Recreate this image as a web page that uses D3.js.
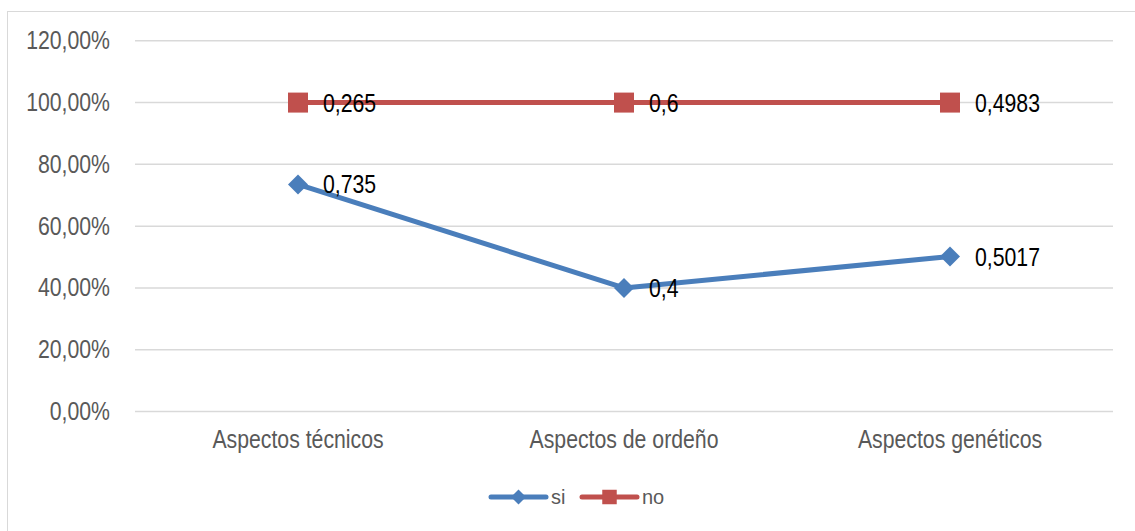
<!DOCTYPE html>
<html>
<head>
<meta charset="utf-8">
<script src="https://cdn.jsdelivr.net/npm/d3@7"></script>
<style>
  body { margin: 0; background: #fff; }
  svg text { font-family: "Liberation Sans Narrow", "Arial Narrow", "Liberation Sans", sans-serif; }
</style>
</head>
<body>
<div id="chart"></div>
<script>
var categories = ["Aspectos técnicos", "Aspectos de ordeño", "Aspectos genéticos"];
var siValues = [0.735, 0.4, 0.5017];
var noValues = [0.265, 0.6, 0.4983];
var labelSi = ["0,735", "0,4", "0,5017"];
var labelNo = ["0,265", "0,6", "0,4983"];
var yTicks = [0, 0.2, 0.4, 0.6, 0.8, 1.0, 1.2];

// squeeze regular sans to look like a narrow face
var narrow = 0.85;

function squeeze(sel){
  sel.each(function(){
    var t = d3.select(this);
    var x = +t.attr("x") || 0;
    t.attr("x", x / narrow)
     .attr("transform", "scale(" + narrow + ",1)");
  });
}

// Excel style diamond: a square turned 45 degrees
function diamondPath(w){
  var h = w / 2;
  return "M0," + (-h) + "L" + h + ",0L0," + h + "L" + (-h) + ",0Z";
}

function main(){
  var canvasWidth = 1135;
  var canvasHeight = 531;

  var svg = d3.select("#chart").append("svg")
      .attr("width", canvasWidth)
      .attr("height", canvasHeight);

  // chart frame
  svg.append("rect")
      .attr("x", 7.5).attr("y", 11.5)
      .attr("width", 1140).attr("height", 530)
      .attr("fill", "none")
      .attr("stroke", "#d9d9d9");

  var xScale = d3.scaleBand().domain(categories).range([135, 1113]);
  var yScale = d3.scaleLinear().domain([0, 1.2]).range([411.5, 40.8]);

  // gridlines
  svg.append("g")
      .selectAll("line")
      .data(yTicks)
      .enter().append("line")
      .attr("x1", 135).attr("x2", 1113)
      .attr("y1", function(d){ return yScale(d); })
      .attr("y2", function(d){ return yScale(d); })
      .attr("stroke", "#d9d9d9")
      .attr("stroke-width", 1.5);

  // y axis
  var yAxis = svg.append("g")
      .attr("transform", "translate(122,0)")
      .call(d3.axisLeft(yScale).tickValues(yTicks)
        .tickFormat(function(d){ return d3.format(".2f")(d * 100).replace(".", ",") + "%"; })
        .tickSize(0).tickPadding(12));
  yAxis.select(".domain").remove();
  yAxis.selectAll("text")
      .attr("font-size", "25px")
      .attr("fill", "#595959")
      .attr("font-family", null)
      .call(squeeze);

  // x axis
  var xAxis = svg.append("g")
      .attr("transform", "translate(0," + 411.5 + ")")
      .call(d3.axisBottom(xScale).tickSize(0).tickPadding(19));
  xAxis.select(".domain").remove();
  xAxis.selectAll("text")
      .attr("font-size", "25px")
      .attr("fill", "#595959")
      .attr("font-family", null)
      .call(squeeze);

  var stackData = categories.map(function(c, i){ return {cat: c, si: siValues[i], no: noValues[i]}; });
  var series = d3.stack().keys(["si", "no"])(stackData);

  var colors = {si: "#4a7ebb", no: "#c0504d"};
  var labels = {si: labelSi, no: labelNo};

  var cx = function(d){ return xScale(d.data.cat) + xScale.bandwidth() / 2; };

  var line = d3.line()
      .x(cx)
      .y(function(d){ return yScale(d[1]); });

  series.forEach(function(s){
    var key = s.key;
    svg.append("path")
        .datum(s)
        .attr("d", line)
        .attr("fill", "none")
        .attr("stroke", colors[key])
        .attr("stroke-width", 5)
        .attr("stroke-linejoin", "round");

    svg.append("g").selectAll("path")
        .data(s)
        .enter().append("path")
        .attr("transform", function(d){
          return "translate(" + cx(d) + "," + yScale(d[1]) + ")";
        })
        .attr("d", key === "si" ? diamondPath(20) : d3.symbol().type(d3.symbolSquare).size(400))
        .attr("fill", colors[key]);

    svg.append("g").selectAll("text")
        .data(s)
        .enter().append("text")
        .attr("transform", function(d){
          return "translate(" + (cx(d) + 25) + "," + yScale(d[1]) + ") scale(" + narrow + ",1)";
        })
        .attr("dy", "0.36em")
        .attr("font-size", "25px")
        .attr("fill", "#000")
        .text(function(d, i){ return labels[key][i]; });
  });

  // legend
  var legendItems = [
    {key: "si", x: 491, text: "si"},
    {key: "no", x: 582, text: "no"}
  ];
  var lg = svg.append("g");
  legendItems.forEach(function(it){
    lg.append("line")
        .attr("x1", it.x).attr("x2", it.x + 55)
        .attr("y1", 497).attr("y2", 497)
        .attr("stroke", colors[it.key])
        .attr("stroke-width", 5)
        .attr("stroke-linecap", "round");
    lg.append("path")
        .attr("transform", "translate(" + (it.x + 27.5) + ",497)")
        .attr("d", it.key === "si" ? diamondPath(15) : d3.symbol().type(d3.symbolSquare).size(210))
        .attr("fill", colors[it.key]);
    lg.append("text")
        .attr("x", it.x + 60)
        .attr("y", 497)
        .attr("dy", "0.36em")
        .attr("font-size", "20px")
        .attr("font-family", "Liberation Sans, sans-serif")
        .attr("fill", "#595959")
        .text(it.text);
  });
}

main();
</script>
</body>
</html>
